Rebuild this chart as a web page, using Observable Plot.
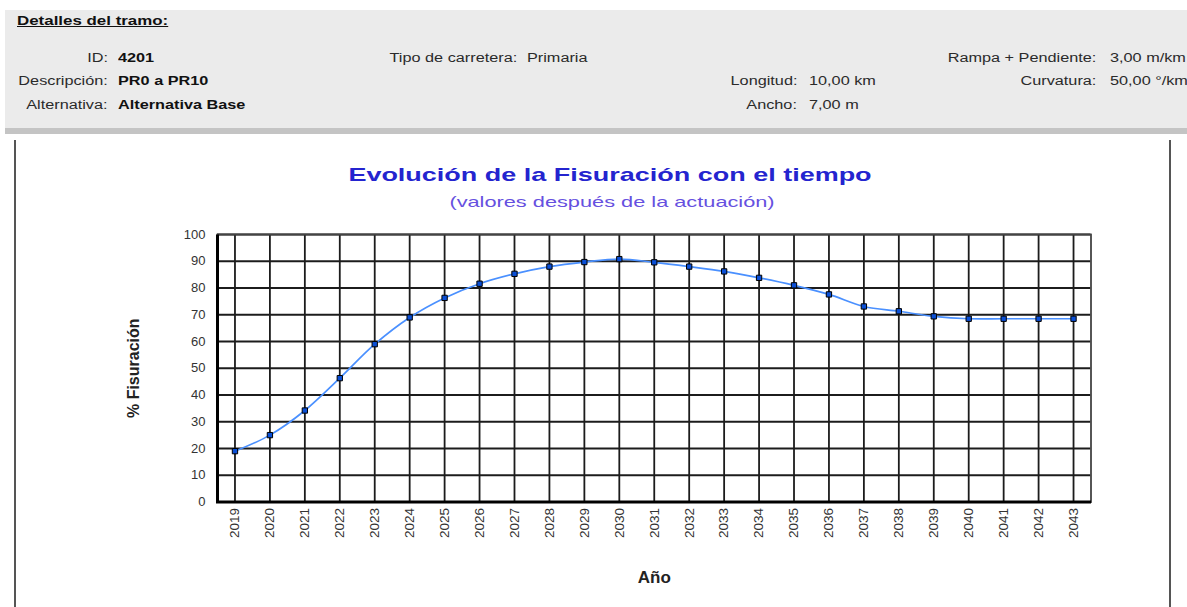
<!DOCTYPE html>
<html>
<head>
<meta charset="utf-8">
<script src="https://cdn.jsdelivr.net/npm/d3@7"></script>
<script src="https://cdn.jsdelivr.net/npm/@observablehq/plot@0.6"></script>
<style>
  html, body { margin: 0; padding: 0; background: #fff; }
  body { width: 1187px; height: 607px; position: relative; overflow: hidden;
         font-family: "Liberation Sans", Arial, sans-serif; }
  .t { position: absolute; white-space: nowrap; }
</style>
</head>
<body>
<div id="root"></div>
<script>
// ---------- data ----------
const years = [2019, 2020, 2021, 2022, 2023, 2024, 2025, 2026, 2027, 2028, 2029, 2030,
               2031, 2032, 2033, 2034, 2035, 2036, 2037, 2038, 2039, 2040, 2041, 2042, 2043];
const fisuracion = [19, 25, 34.2, 46.3, 59, 69, 76.3, 81.6, 85.3, 88, 89.7, 90.8,
                    89.6, 88, 86.2, 83.8, 81, 77.6, 73.1, 71.3, 69.4, 68.5, 68.5, 68.5, 68.5];
const yTicks = [0, 10, 20, 30, 40, 50, 60, 70, 80, 90, 100];

const headerTitle = "Detalles del tramo:";
const headerLabels = ["ID:", "Descripción:", "Alternativa:", "Tipo de carretera:", "Longitud:", "Ancho:", "Rampa + Pendiente:", "Curvatura:"];
const headerValues = ["4201", "PR0 a PR10", "Alternativa Base", "Primaria", "10,00 km", "7,00 m", "3,00 m/km", "50,00 °/km"];
const chartTitle = "Evolución de la Fisuración con el tiempo";
const chartSubtitle = "(valores después de la actuación)";
const yLabel = "% Fisuración";
const xLabel = "Año";

const data = years.map((y, i) => ({year: y, value: fisuracion[i]}));

// ---------- layout helpers ----------
const root = document.getElementById("root");
function box(style) {
  const d = document.createElement("div");
  d.style.cssText = "position:absolute;" + style;
  root.appendChild(d);
  return d;
}
function txt(text, x, base, o = {}) {
  const size = o.size || 12.5, sx = o.sx || 1, anchor = o.anchor || "start";
  const d = document.createElement("div");
  d.className = "t";
  d.textContent = text;
  d.style.fontSize = size + "px";
  d.style.lineHeight = size + "px";
  d.style.top = (base - 0.8465 * size) + "px";
  d.style.fontWeight = o.weight || "normal";
  d.style.color = o.color || "#2a2a2a";
  if (o.underline) d.style.textDecoration = "underline";
  if (anchor === "end") {
    d.style.right = (1187 - x) + "px";
    d.style.transformOrigin = "right center";
    d.style.transform = `scaleX(${sx})`;
  } else if (anchor === "middle") {
    d.style.left = x + "px";
    d.style.transformOrigin = "center center";
    d.style.transform = `translateX(-50%) scaleX(${sx})`;
  } else {
    d.style.left = x + "px";
    d.style.transformOrigin = "left center";
    d.style.transform = `scaleX(${sx})`;
  }
  root.appendChild(d);
  return d;
}

// ---------- header panel ----------
box("left:5px;top:10px;width:1182px;height:118px;background:#ebebeb;border-bottom:6px solid #c4c4c4;");
const HS = 1.3;
txt(headerTitle, 17, 25, {size: 13, weight: "bold", sx: HS, underline: true, color: "#111"});
const rows = [63, 86, 110];
// left column
txt(headerLabels[0], 108, rows[0], {anchor: "end", sx: HS});
txt(headerLabels[1], 108, rows[1], {anchor: "end", sx: HS});
txt(headerLabels[2], 108, rows[2], {anchor: "end", sx: HS});
txt(headerValues[0], 118, rows[0], {weight: "bold", sx: HS, color: "#111"});
txt(headerValues[1], 118, rows[1], {weight: "bold", sx: HS, color: "#111"});
txt(headerValues[2], 118, rows[2], {weight: "bold", sx: HS, color: "#111"});
// middle
txt(headerLabels[3], 517, rows[0], {anchor: "end", sx: HS});
txt(headerValues[3], 527, rows[0], {sx: HS});
txt(headerLabels[4], 797, rows[1], {anchor: "end", sx: HS});
txt(headerValues[4], 809, rows[1], {sx: HS});
txt(headerLabels[5], 797, rows[2], {anchor: "end", sx: HS});
txt(headerValues[5], 809, rows[2], {sx: HS});
// right
txt(headerLabels[6], 1096, rows[0], {anchor: "end", sx: HS});
txt(headerValues[6], 1110, rows[0], {sx: HS});
txt(headerLabels[7], 1096, rows[1], {anchor: "end", sx: HS});
txt(headerValues[7], 1110, rows[1], {sx: HS});

// chart panel side borders
box("left:14px;top:140px;width:2px;height:467px;background:#555;");
box("left:1169px;top:140px;width:2px;height:467px;background:#555;");

// titles
txt(chartTitle, 610, 181, {anchor: "middle", size: 19, weight: "bold", sx: 1.42, color: "#2424cf"});
txt(chartSubtitle, 612, 207, {anchor: "middle", size: 15, sx: 1.45, color: "#6650e0"});

// ---------- plot ----------
const W = 1187, H = 392, mL = 217, mR = 96.5, mT = 19, mB = 105.5;
const fw = W - mL - mR, fh = H - mT - mB;

const chart = Plot.plot({
  width: W, height: H,
  marginLeft: mL, marginRight: mR, marginTop: mT, marginBottom: mB,
  style: {fontFamily: "'Liberation Sans', Arial, sans-serif", fontSize: "12px", color: "#333", background: "transparent", overflow: "visible"},
  x: {type: "point", domain: years, padding: 0.5, round: false, label: null},
  y: {domain: [0, 100], label: null},
  marks: [
    Plot.gridX(years, {stroke: "#1c1c1c", strokeOpacity: 1, strokeWidth: 1.8}),
    Plot.gridY(yTicks, {stroke: "#1c1c1c", strokeOpacity: 1, strokeWidth: 1.8}),
    Plot.frame({stroke: "#444", strokeWidth: 1.8}),
    Plot.frame({stroke: "#000", strokeWidth: 3, strokeDasharray: `0 ${fw + fh} ${fw + fh}`}),
    Plot.axisY(yTicks, {tickSize: 0, tickPadding: 12, fontSize: 13, fill: "#333", label: null}),
    Plot.axisX(years, {tickSize: 0, tickPadding: 6, tickRotate: -90, fontSize: 13.5, fill: "#333", tickFormat: d => String(d), label: null}),
    Plot.line(data, {x: "year", y: "value", curve: "catmull-rom", stroke: "#4a90ff", strokeWidth: 1.7}),
    Plot.dot(data, {x: "year", y: "value", symbol: "square", r: 3, fill: "#0a4fd6", stroke: "#000", strokeWidth: 1}),
    Plot.text([yLabel], {frameAnchor: "left", dx: -84, rotate: -90, textAnchor: "middle", fontWeight: "bold", fontSize: 16, fill: "#222"}),
    Plot.text([xLabel], {frameAnchor: "bottom", dy: 75.5, lineAnchor: "middle", textAnchor: "middle", fontWeight: "bold", fontSize: 17, fill: "#222"})
  ]
});
const holder = box(`left:0px;top:215px;width:${W}px;height:${H}px;`);
holder.appendChild(chart);
</script>
</body>
</html>
